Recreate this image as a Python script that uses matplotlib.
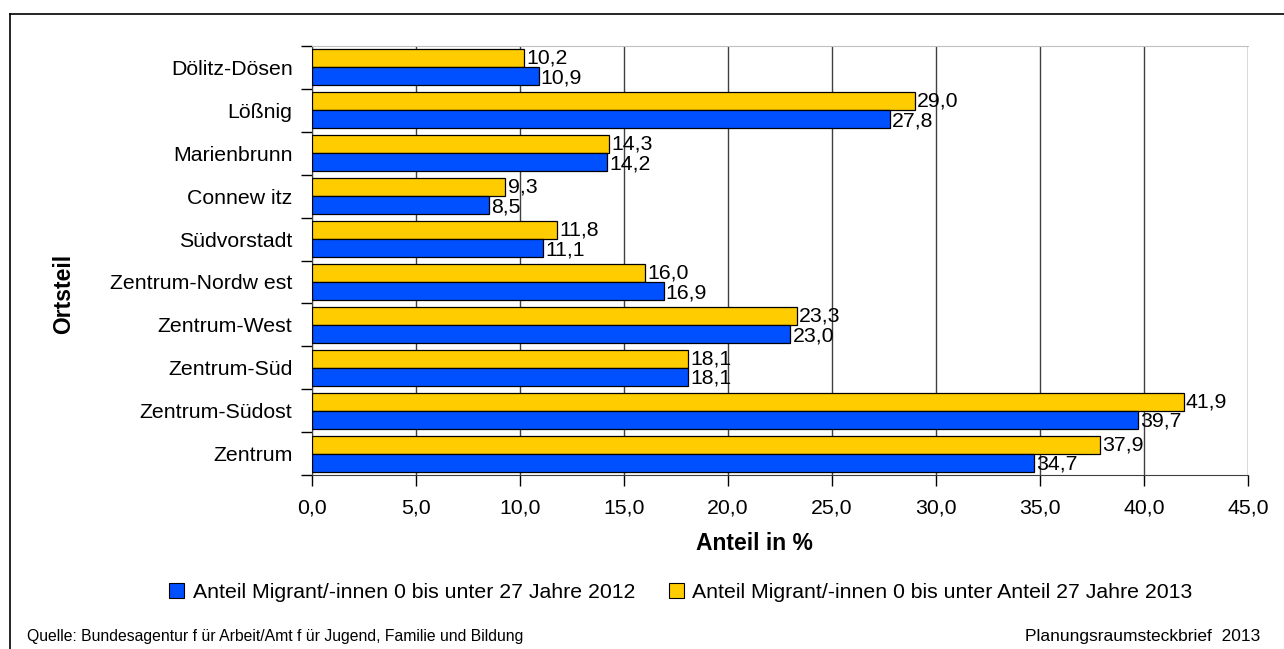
import matplotlib
matplotlib.use("Agg")
import matplotlib.pyplot as plt
from matplotlib.lines import Line2D
from matplotlib.patches import Patch
import numpy as np

plt.rcParams['font.family'] = ['Liberation Sans', 'DejaVu Sans']

categories = ["Dölitz-Dösen", "Lößnig", "Marienbrunn", "Connew itz", "Südvorstadt",
              "Zentrum-Nordw est", "Zentrum-West", "Zentrum-Süd", "Zentrum-Südost", "Zentrum"]
values_2012 = [10.9, 27.8, 14.2, 8.5, 11.1, 16.9, 23.0, 18.1, 39.7, 34.7]
values_2013 = [10.2, 29.0, 14.3, 9.3, 11.8, 16.0, 23.3, 18.1, 41.9, 37.9]
xticks = [0, 5, 10, 15, 20, 25, 30, 35, 40, 45]

label_2012 = "Anteil Migrant/-innen 0 bis unter 27 Jahre 2012"
label_2013 = "Anteil Migrant/-innen 0 bis unter Anteil 27 Jahre 2013"
blue = "#0050FF"
yellow = "#FFCC00"

FS = 15.3

fig = plt.figure(figsize=(12.84, 6.49), dpi=100)
W, H = 1284, 649
ax = fig.add_axes([312 / W, 1 - 475 / H, (1248 - 312) / W, (475 - 46) / H])

n = len(categories)
pos = np.arange(n)
bh = 0.42
ax.barh(pos - bh / 2, values_2013, height=bh, color=yellow, edgecolor="black", linewidth=0.9, zorder=3)
ax.barh(pos + bh / 2, values_2012, height=bh, color=blue, edgecolor="black", linewidth=0.9, zorder=3)

fmt = lambda v: f"{v:.1f}".replace(".", ",")
for i in range(n):
    ax.text(values_2013[i] + 0.1, pos[i] - bh / 2, fmt(values_2013[i]), va="center", ha="left", fontsize=FS, zorder=4)
    ax.text(values_2012[i] + 0.1, pos[i] + bh / 2 + 0.04, fmt(values_2012[i]), va="center", ha="left", fontsize=FS, zorder=4)

ax.set_xlim(0, 45)
ax.set_ylim(n - 0.5, -0.5)
ax.set_xticks(xticks)
ax.set_xticklabels([fmt(v) for v in xticks], fontsize=FS)
ax.set_yticks(pos)
ax.set_yticklabels(categories, fontsize=FS)
ax.tick_params(axis="y", length=0, pad=14)
ax.set_yticks(np.arange(n + 1) - 0.5, minor=True)
ax.tick_params(axis="y", which="minor", length=8, width=1, direction="out")
ax.tick_params(axis="x", length=8, width=1, direction="out", pad=9)

ax.grid(axis="x", color="#404040", linewidth=1, zorder=0)
ax.spines["right"].set_visible(False)
ax.spines["top"].set_color("#c0c0c0")
ax.spines["left"].set_color("#404040")
ax.spines["bottom"].set_color("#404040")

ax.set_xlabel("Anteil in %", fontsize=16.5, fontweight="bold")
ax.xaxis.set_label_coords((754 - 312) / 936, (475 - 544) / 429)
ax.xaxis.label.set_va("center")
ax.set_ylabel("Ortsteil", fontsize=16.5, fontweight="bold")
ax.yaxis.set_label_coords((64 - 312) / 936, (475 - 294) / 429)
ax.yaxis.label.set_va("center")

handles = [Patch(facecolor=blue, edgecolor="black", linewidth=0.8),
           Patch(facecolor=yellow, edgecolor="black", linewidth=0.8)]
fig.legend(handles, [label_2012, label_2013], loc="center", bbox_to_anchor=(681 / W, 1 - 592 / H),
           ncol=2, frameon=False, fontsize=FS, handlelength=0.7, handleheight=0.7,
           handletextpad=0.4, columnspacing=1.6)

fig.text(27 / W, 1 - 637 / H, "Quelle: Bundesagentur f ür Arbeit/Amt f ür Jugend, Familie und Bildung",
         fontsize=11.3, ha="left", va="center")
fig.text(1260 / W, 1 - 637 / H, "Planungsraumsteckbrief  2013", fontsize=12.5, ha="right", va="center")

# outer border (top and left visible)
fig.add_artist(Line2D([10 / W, 1.0], [1 - 14 / H, 1 - 14 / H], color="black", linewidth=1.2))
fig.add_artist(Line2D([10 / W, 10 / W], [0, 1 - 14 / H], color="black", linewidth=1.2))

fig.savefig("out.png", dpi=100)
